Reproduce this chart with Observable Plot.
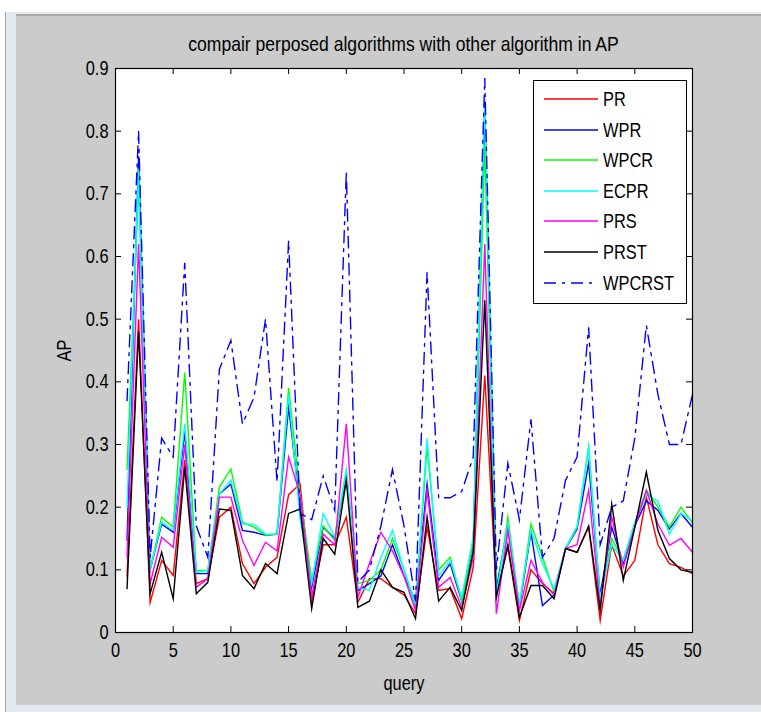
<!DOCTYPE html>
<html><head><meta charset="utf-8">
<script src="https://cdn.jsdelivr.net/npm/d3@7"></script>
<script src="https://cdn.jsdelivr.net/npm/@observablehq/plot@0.6"></script>
<style>
html,body{margin:0;padding:0;background:#fff;}
#wrap{position:relative;width:761px;height:712px;overflow:hidden;background:#fff;}
.ch{position:absolute;}
#plot{position:absolute;left:0;top:0;}
#title{position:absolute;left:115px;top:33px;width:577px;text-align:center;font-size:21px;line-height:21px;color:#000;white-space:nowrap;}
#legend{position:absolute;left:533px;top:80px;width:152px;height:222px;background:#fff;border:1px solid #000;}
.lrow{position:absolute;left:0;height:20px;width:150px;}
.lrow svg{position:absolute;left:9px;top:4px;}
.lrow span{position:absolute;left:69px;top:0;font-size:20px;line-height:20px;color:#000;white-space:nowrap;transform-origin:left center;}
</style>
</head>
<body>
<div id="wrap">
  <div class="ch" style="left:6px;top:12px;right:0;bottom:0;background:#e3e9f0;"></div>
  <div class="ch" style="left:5px;top:12px;width:1px;bottom:0;background:#9aa2aa;"></div>
  <div class="ch" style="left:16px;top:14px;right:0;bottom:7px;background:#cbcbcb;border-top:2px solid #a9a9a9;"></div>
  <div id="plot"></div>
  <div id="title">compair perposed algorithms with other algorithm in AP</div>
  <div id="legend"></div>
</div>
<script>
const queries = [1,2,3,4,5,6,7,8,9,10,11,12,13,14,15,16,17,18,19,20,21,22,23,24,25,26,27,28,29,30,31,32,33,34,35,36,37,38,39,40,41,42,43,44,45,46,47,48,49,50];

const PR = [0.09,0.50,0.048,0.115,0.091,0.275,0.078,0.086,0.184,0.20,0.11,0.078,0.104,0.12,0.22,0.237,0.05,0.14,0.14,0.184,0.048,0.086,0.086,0.072,0.06,0.03,0.168,0.067,0.07,0.022,0.104,0.41,0.062,0.136,0.019,0.10,0.078,0.062,0.134,0.128,0.168,0.019,0.14,0.09,0.115,0.216,0.14,0.11,0.104,0.094];
const WPR = [0.147,0.76,0.10,0.173,0.16,0.32,0.094,0.094,0.221,0.237,0.163,0.16,0.155,0.157,0.36,0.20,0.072,0.168,0.15,0.25,0.067,0.078,0.09,0.14,0.09,0.05,0.237,0.083,0.11,0.05,0.14,0.84,0.07,0.17,0.04,0.16,0.043,0.06,0.134,0.165,0.27,0.06,0.168,0.11,0.17,0.21,0.195,0.165,0.19,0.168];
const WPCR = [0.26,0.72,0.10,0.184,0.168,0.415,0.099,0.099,0.232,0.261,0.176,0.168,0.155,0.157,0.39,0.22,0.083,0.17,0.147,0.258,0.078,0.083,0.10,0.15,0.10,0.04,0.296,0.10,0.12,0.05,0.14,0.78,0.055,0.184,0.04,0.173,0.12,0.065,0.134,0.168,0.296,0.05,0.15,0.115,0.175,0.227,0.20,0.168,0.20,0.175];
const ECPR = [0.20,0.74,0.10,0.176,0.163,0.333,0.096,0.099,0.221,0.243,0.173,0.173,0.157,0.157,0.38,0.18,0.078,0.19,0.152,0.26,0.072,0.067,0.12,0.163,0.10,0.046,0.31,0.09,0.115,0.056,0.152,0.85,0.06,0.173,0.045,0.163,0.11,0.07,0.134,0.17,0.296,0.055,0.14,0.115,0.175,0.22,0.21,0.157,0.19,0.178];
const PRS = [0.12,0.62,0.078,0.152,0.136,0.30,0.072,0.086,0.216,0.216,0.147,0.107,0.144,0.13,0.28,0.22,0.056,0.157,0.14,0.333,0.056,0.11,0.16,0.13,0.09,0.035,0.227,0.072,0.088,0.04,0.12,0.62,0.03,0.163,0.035,0.115,0.08,0.06,0.134,0.14,0.227,0.04,0.184,0.104,0.168,0.227,0.173,0.139,0.15,0.128];
const PRST = [0.07,0.48,0.062,0.128,0.054,0.264,0.062,0.08,0.197,0.195,0.091,0.07,0.11,0.094,0.19,0.197,0.038,0.15,0.125,0.243,0.04,0.05,0.10,0.072,0.064,0.022,0.184,0.05,0.072,0.035,0.13,0.53,0.056,0.14,0.024,0.075,0.075,0.054,0.134,0.128,0.17,0.035,0.205,0.083,0.168,0.256,0.163,0.118,0.10,0.096];
const WPCRST = [0.37,0.80,0.12,0.31,0.28,0.59,0.17,0.12,0.42,0.466,0.333,0.375,0.50,0.24,0.625,0.19,0.18,0.25,0.195,0.735,0.08,0.10,0.17,0.26,0.17,0.05,0.575,0.215,0.215,0.225,0.28,0.885,0.10,0.27,0.18,0.34,0.12,0.15,0.243,0.28,0.487,0.14,0.20,0.21,0.31,0.49,0.38,0.30,0.30,0.38];

const seriesNames = ["PR","WPR","WPCR","ECPR","PRS","PRST","WPCRST"];
const seriesValues = [PR, WPR, WPCR, ECPR, PRS, PRST, WPCRST];
const seriesColors = ["#ff0000","#0000ff","#00ff00","#00ffff","#ff00ff","#000000","#0000ff"];
const seriesDash = [null,null,null,null,null,null,"12,6,3,6"];

const xTicks = [0,5,10,15,20,25,30,35,40,45,50];
const yTicks = [0,0.1,0.2,0.3,0.4,0.5,0.6,0.7,0.8,0.9];
const yTickLabels = ["0","0.1","0.2","0.3","0.4","0.5","0.6","0.7","0.8","0.9"];

// font detection: prefer a narrow face like MATLAB's rendering
function hasFont(name){
  const c = document.createElement("canvas").getContext("2d");
  c.font = "20px monospace"; const a = c.measureText("WPCRST abcmw").width;
  c.font = `20px '${name}', monospace`; const b = c.measureText("WPCRST abcmw").width;
  return Math.abs(a-b) > 0.5;
}
const narrow = hasFont("Liberation Sans Narrow");
const FONT = narrow ? "'Liberation Sans Narrow', 'Liberation Sans', Arial, sans-serif" : "'Liberation Sans', Arial, sans-serif";
const SX = narrow ? 1 : 0.82;

const table = [];
seriesNames.forEach((name, si) => {
  seriesValues[si].forEach((v, i) => table.push({series: name, query: queries[i], ap: v}));
});

const W = 761, H = 712, ML = 115, MR = 69, MT = 68, MB = 80;
const PW = W - ML - MR, PH = H - MT - MB, TK = 6;

const marks = [Plot.frame({fill: "white", stroke: null})];
seriesNames.forEach((name, si) => {
  marks.push(Plot.line(table.filter(d => d.series === name), {
    x: "query", y: "ap", stroke: seriesColors[si], strokeWidth: 1.4,
    strokeDasharray: seriesDash[si] || undefined, strokeLinejoin: "miter", strokeMiterlimit: 10
  }));
});
marks.push(
  Plot.tickX(xTicks, {x: d => d, stroke: "black", strokeWidth: 1, insetTop: PH - TK}),
  Plot.tickX(xTicks, {x: d => d, stroke: "black", strokeWidth: 1, insetBottom: PH - TK}),
  Plot.tickY(yTicks, {y: d => d, stroke: "black", strokeWidth: 1, insetRight: PW - TK}),
  Plot.tickY(yTicks, {y: d => d, stroke: "black", strokeWidth: 1, insetLeft: PW - TK}),
  Plot.frame({stroke: "black", strokeWidth: 1.2}),
  Plot.axisX({ticks: xTicks, tickSize: 0, tickPadding: 10, tickFormat: d => String(d),
    label: "query", labelAnchor: "center", labelArrow: "none", labelOffset: 57}),
  Plot.axisY({ticks: yTicks, tickSize: 0, tickPadding: 7, tickFormat: (d, i) => yTickLabels[i],
    label: "AP", labelAnchor: "center", labelArrow: "none", labelOffset: 59})
);

const chart = Plot.plot({
  width: W, height: H,
  marginLeft: ML, marginRight: MR, marginTop: MT, marginBottom: MB,
  x: {domain: [0, 50]},
  y: {domain: [0, 0.9]},
  style: {fontFamily: FONT, fontSize: "20px", background: "transparent", color: "#000", overflow: "visible"},
  marks
});
document.getElementById("plot").appendChild(chart);

if (SX !== 1) {
  chart.querySelectorAll("text").forEach(t => {
    const tr = t.getAttribute("transform") || "";
    t.setAttribute("transform", tr + ` scale(${SX},1)`);
  });
}

const title = document.getElementById("title");
title.style.fontFamily = FONT;
title.style.transform = `scaleX(${SX * 1.02})`;

const legend = document.getElementById("legend");
legend.style.fontFamily = FONT;
const rowStep = 30.6;
seriesNames.forEach((name, si) => {
  const row = document.createElement("div");
  row.className = "lrow";
  row.style.top = (8 + si * rowStep) + "px";
  const svg = d3.create("svg").attr("width", 56).attr("height", 12);
  svg.append("line").attr("x1", 1).attr("x2", 55).attr("y1", 6).attr("y2", 6)
    .attr("stroke", seriesColors[si]).attr("stroke-width", 1.4)
    .attr("stroke-dasharray", seriesDash[si]);
  row.appendChild(svg.node());
  const sp = document.createElement("span");
  sp.textContent = name;
  sp.style.transform = `scaleX(${SX})`;
  row.appendChild(sp);
  legend.appendChild(row);
});
</script>
</body></html>
